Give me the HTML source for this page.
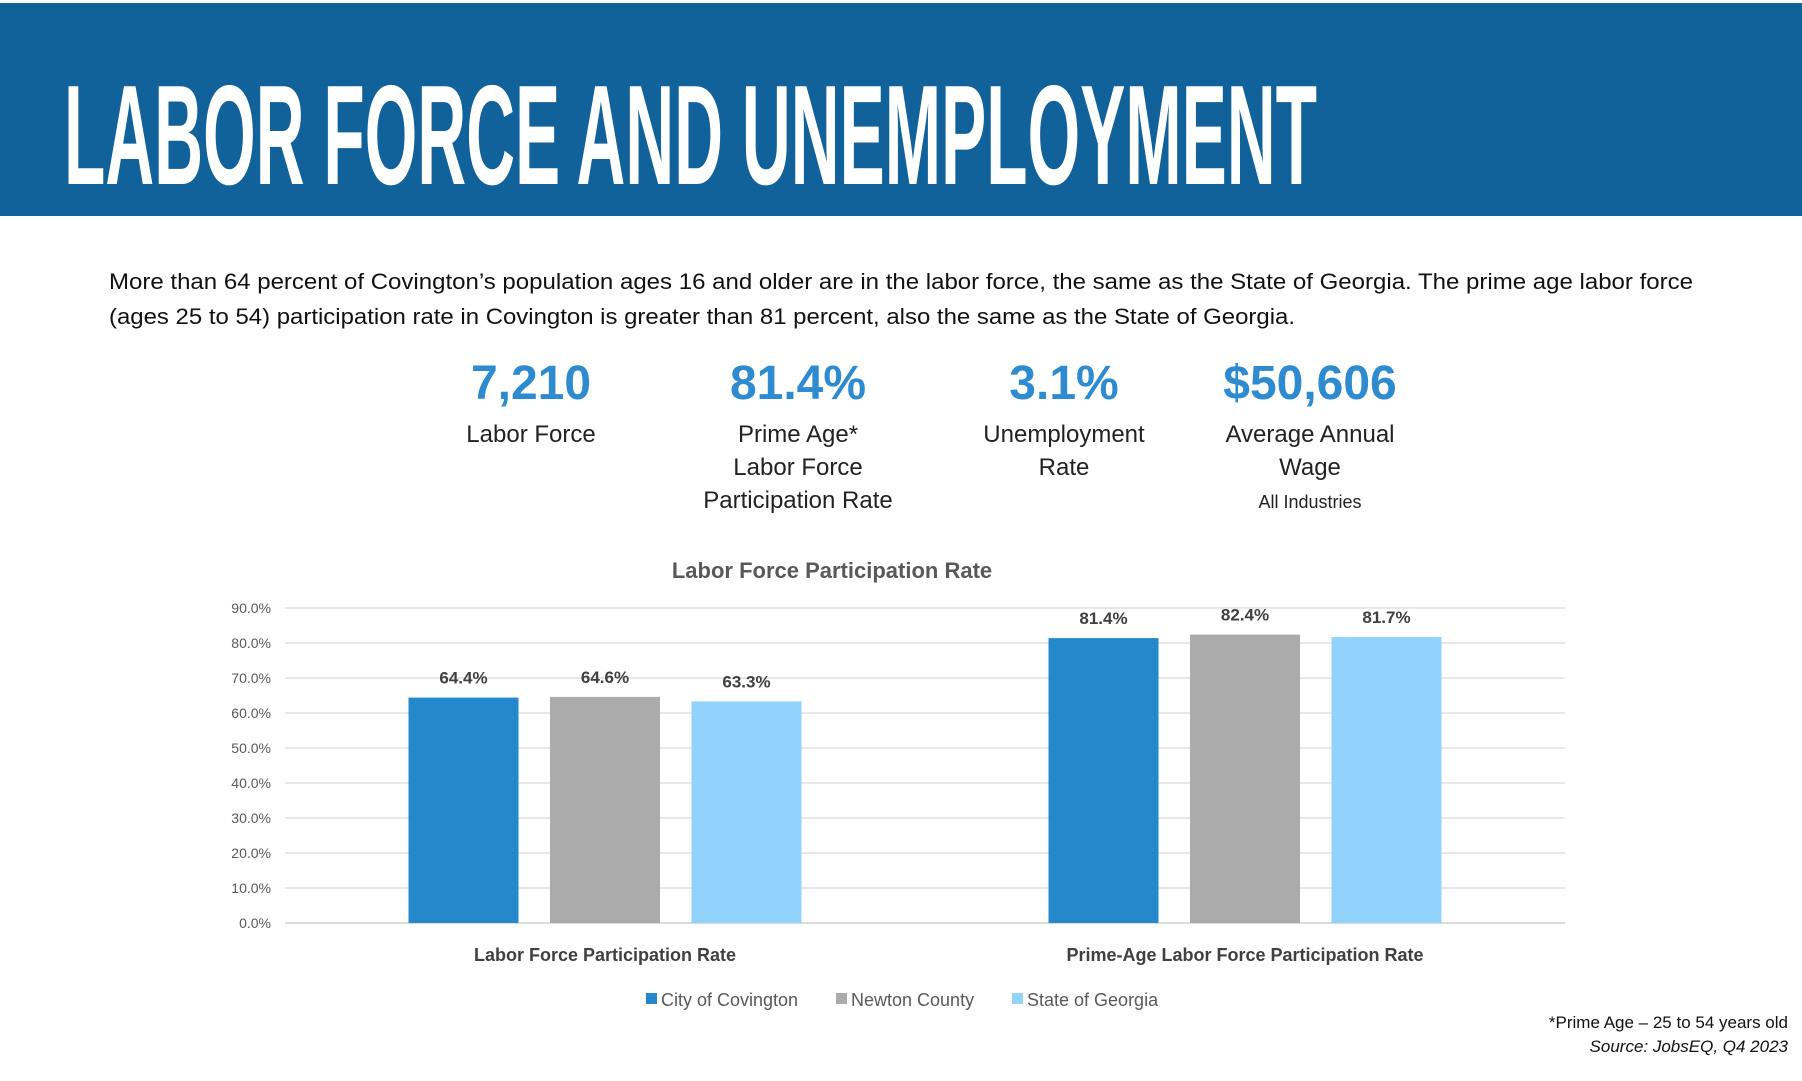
<!DOCTYPE html>
<html><head><meta charset="utf-8"><style>
body{margin:0;width:1802px;height:1081px;background:#fff;position:relative;overflow:hidden;font-family:"Liberation Sans",sans-serif}
.abs{position:absolute;white-space:nowrap}
.fit{transform-origin:0 0;display:inline-block}
.num{font-weight:bold;color:#2E8BCF;font-size:48px;transform:translateX(-50%);text-align:center}
.lab{color:#222;font-size:24px;text-align:center;transform:translateX(-50%);line-height:33px}
</style></head><body>
<div class="abs" style="left:0;top:3px;width:1802px;height:213px;background:#11619A"></div>
<div class="abs" style="left:64px;top:76px;color:#fff;font-weight:bold;font-size:142px;line-height:120px"><span class="fit" data-w="1253">LABOR FORCE AND UNEMPLOYMENT</span></div>
<div class="abs" style="left:109px;top:264px;font-size:22px;color:#111;line-height:35px">
<div><span class="fit" data-w="1584">More than 64 percent of Covington’s population ages 16 and older are in the labor force, the same as the State of Georgia. The prime age labor force</span></div>
<div><span class="fit" data-w="1186">(ages 25 to 54) participation rate in Covington is greater than 81 percent, also the same as the State of Georgia.</span></div>
</div>
<div class="abs num" style="left:531px;top:356px">7,210</div>
<div class="abs num" style="left:798px;top:356px">81.4%</div>
<div class="abs num" style="left:1064px;top:356px">3.1%</div>
<div class="abs num" style="left:1310px;top:356px">$50,606</div>
<div class="abs lab" style="left:531px;top:418px">Labor Force</div>
<div class="abs lab" style="left:798px;top:418px">Prime Age*<br>Labor Force<br>Participation Rate</div>
<div class="abs lab" style="left:1064px;top:418px">Unemployment<br>Rate</div>
<div class="abs lab" style="left:1310px;top:418px">Average Annual<br>Wage<br><span style="font-size:18px;line-height:20px">All Industries</span></div>
<svg class="abs" style="left:0;top:0" width="1802" height="1081" id="chart"></svg>
<div class="abs" style="right:14px;top:1011px;font-size:17px;text-align:right;line-height:24px;color:#111">*Prime Age – 25 to 54 years old<br><i>Source: JobsEQ, Q4 2023</i></div>
<script>
const categories=["Labor Force Participation Rate","Prime-Age Labor Force Participation Rate"];
const seriesNames=["City of Covington","Newton County","State of Georgia"];
const covington=[64.4,81.4];
const newton=[64.6,82.4];
const georgia=[63.3,81.7];
const ticks=[0,10,20,30,40,50,60,70,80,90];
const colors=["#2488CB","#ABABAB","#91D3FB"];
const NS="http://www.w3.org/2000/svg",svg=document.getElementById('chart');
const X0=285,X1=1565,Y0=923,Y90=608;
const y=v=>Y0-(v/90)*(Y0-Y90);
const cw=(X1-X0)/categories.length;
const xc=i=>X0+cw*(i+0.5);
function mk(t,a,txt){const e=document.createElementNS(NS,t);for(const k in a)e.setAttribute(k,a[k]);if(txt!=null)e.textContent=txt;svg.appendChild(e);return e;}
let e=mk('text',{x:832,y:578,'text-anchor':'middle','font-size':22,'font-weight':'bold',fill:'#595959'},'Labor Force Participation Rate');


ticks.forEach(t=>{
 let g=mk('line',{x1:X0,x2:X1,y1:y(t),y2:y(t),stroke:t==0?'#d0d0d0':'#e0e0e0','stroke-width':1.5});
 
 
 let l=mk('text',{x:271,y:y(t)+5,'text-anchor':'end','font-size':14,fill:'#595959'},t.toFixed(1)+'%');
 
 
});
const series=[covington,newton,georgia];
const bw=110,step=141.5;
categories.forEach((c,i)=>{
 series.forEach((s,j)=>{
  const cx=xc(i)+(j-1)*step;
  let r=mk('rect',{x:cx-bw/2,y:y(s[i]),width:bw,height:Y0-y(s[i]),fill:colors[j]});
  
  
  let t=mk('text',{x:cx,y:y(s[i])-14,'text-anchor':'middle','font-size':17,'font-weight':'bold',fill:'#404040'},s[i].toFixed(1)+'%');
  
  
 });
 let cl=mk('text',{x:xc(i),y:961,'text-anchor':'middle','font-size':18,'font-weight':'bold',fill:'#404040'},c);
 
 
});
const lx=[646,836,1012];
seriesNames.forEach((n,j)=>{
 let r=mk('rect',{x:lx[j],y:993,width:11,height:11,fill:colors[j]});
 
 
 let t=mk('text',{x:lx[j]+15,y:1006,'font-size':18,fill:'#595959'},n);
 
 
});
document.querySelectorAll('.fit').forEach(s=>{const w=s.getBoundingClientRect().width;s.style.transform='scaleX('+(+s.dataset.w/w)+')';});
</script>
</body></html>
